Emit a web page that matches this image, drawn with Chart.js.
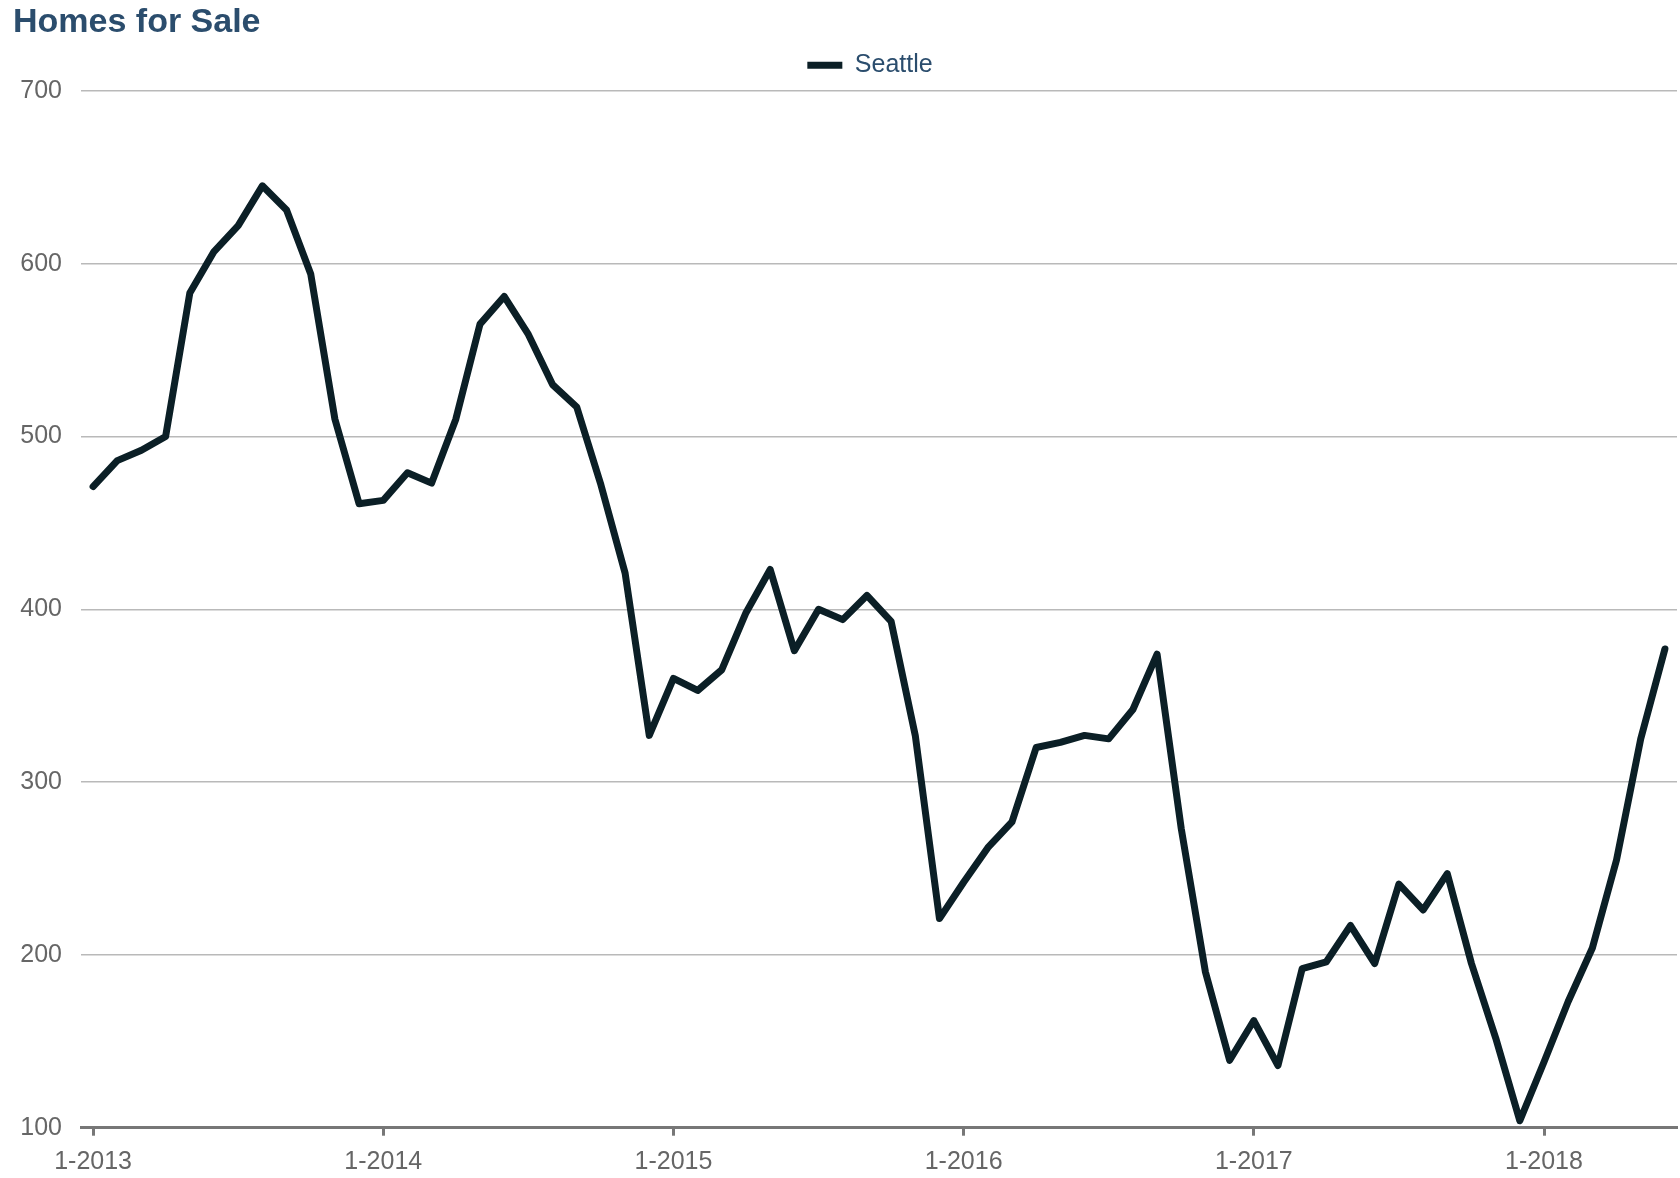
<!DOCTYPE html>
<html>
<head>
<meta charset="utf-8">
<script src="https://cdn.jsdelivr.net/npm/chart.js@4/dist/chart.umd.min.js"></script>
<style>
  html, body { margin: 0; padding: 0; background: #ffffff; }
  #wrap { width: 1680px; height: 1178px; }
</style>
</head>
<body>
<div id="wrap"><canvas id="c" width="1680" height="1178"></canvas></div>
<script>
// ---- data ----
const months = [
  '1-2013','2-2013','3-2013','4-2013','5-2013','6-2013','7-2013','8-2013','9-2013','10-2013','11-2013','12-2013',
  '1-2014','2-2014','3-2014','4-2014','5-2014','6-2014','7-2014','8-2014','9-2014','10-2014','11-2014','12-2014',
  '1-2015','2-2015','3-2015','4-2015','5-2015','6-2015','7-2015','8-2015','9-2015','10-2015','11-2015','12-2015',
  '1-2016','2-2016','3-2016','4-2016','5-2016','6-2016','7-2016','8-2016','9-2016','10-2016','11-2016','12-2016',
  '1-2017','2-2017','3-2017','4-2017','5-2017','6-2017','7-2017','8-2017','9-2017','10-2017','11-2017','12-2017',
  '1-2018','2-2018','3-2018','4-2018','5-2018','6-2018'
];
const seattle = [
  471, 486, 492, 500, 583, 607, 622, 645, 631, 594, 510, 461,
  463, 479, 473, 510, 565, 581, 559, 530, 517, 472, 421, 327,
  360, 353, 365, 398, 423, 376, 400, 394, 408, 393, 327, 221,
  242, 262, 277, 320, 323, 327, 325, 342, 374, 273, 190, 139,
  162, 136, 192, 196, 217, 195, 241, 226, 247, 195, 152, 104,
  138, 173, 204, 255, 325, 377
];
const xTickLabels = ['1-2013','1-2014','1-2015','1-2016','1-2017','1-2018'];
const yTickValues = [100, 200, 300, 400, 500, 600, 700];
const seriesName = 'Seattle';
const chartTitle = 'Homes for Sale';

// ---- chart ----
const FONT = '"Liberation Sans", Arial, Helvetica, sans-serif';
const points = seattle.map((v, i) => ({ x: i, y: v }));
const xTickPositions = months.map((m, i) => xTickLabels.includes(m) ? i : null).filter(v => v !== null);

// small layout adjustments: extra gap under legend, legend nudged right
const layoutTweaks = {
  id: 'layoutTweaks',
  beforeLayout(chart) {
    const lg = chart.legend;
    if (lg && !lg.__patched) {
      const orig = lg.fit.bind(lg);
      lg.fit = function () { orig(); this.height += 3; };
      lg.__patched = true;
    }
  },
  afterLayout(chart) {
    const lg = chart.legend;
    if (lg) { lg.left += 25; lg.right += 25; }
  }
};

new Chart(document.getElementById('c'), {
  type: 'line',
  data: {
    datasets: [{
      label: seriesName,
      data: points,
      borderColor: '#0b1f26',
      backgroundColor: '#0b1f26',
      borderWidth: 7,
      pointRadius: 0,
      pointHoverRadius: 0,
      pointStyle: 'line',
      tension: 0,
      borderJoinStyle: 'round',
      borderCapStyle: 'round',
      fill: false
    }]
  },
  plugins: [layoutTweaks],
  options: {
    responsive: false,
    animation: false,
    devicePixelRatio: 1,
    layout: { padding: { left: 13, right: 3, top: 0, bottom: 0 } },
    plugins: {
      title: {
        display: true,
        text: chartTitle,
        align: 'start',
        color: '#2b4d6d',
        font: { family: FONT, size: 34, weight: 'bold', lineHeight: 1.2 },
        padding: { top: 2, bottom: 0 }
      },
      legend: {
        display: true,
        position: 'top',
        align: 'center',
        labels: {
          usePointStyle: true,
          pointStyle: 'line',
          pointStyleWidth: 35,
          color: '#2b4d6d',
          font: { family: FONT, size: 25 },
          padding: 10
        }
      },
      tooltip: { enabled: false }
    },
    scales: {
      x: {
        type: 'linear',
        min: -0.5,
        max: 65.5,
        afterBuildTicks: (scale) => { scale.ticks = xTickPositions.map(v => ({ value: v })); },
        afterFit: (scale) => { scale.height -= 9.7; },
        ticks: {
          autoSkip: false,
          maxRotation: 0,
          color: '#666666',
          font: { family: FONT, size: 25 },
          padding: 11,
          callback: (v) => months[v]
        },
        grid: {
          drawOnChartArea: false,
          drawTicks: true,
          tickLength: 8,
          tickWidth: 3,
          tickColor: '#777777'
        },
        border: { display: true, color: '#777777', width: 3 }
      },
      y: {
        min: 100,
        max: 700,
        afterBuildTicks: (scale) => { scale.ticks = yTickValues.map(v => ({ value: v })); },
        afterFit: (scale) => { scale.width = 68; },
        ticks: {
          color: '#666666',
          font: { family: FONT, size: 25 },
          padding: 19
        },
        grid: {
          drawTicks: false,
          color: '#b9b9b9',
          lineWidth: 1.5
        },
        border: { display: false }
      }
    }
  }
});
</script>
</body>
</html>
